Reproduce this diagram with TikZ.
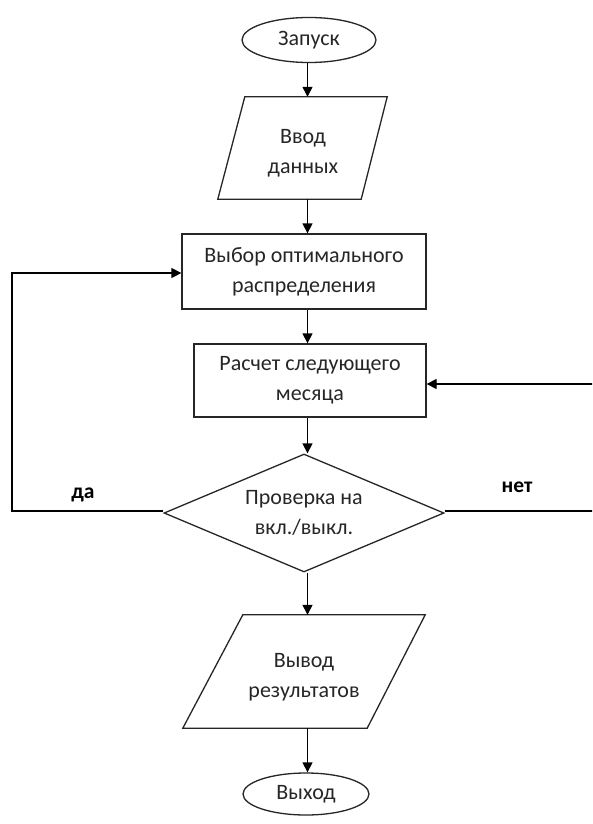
\documentclass[tikz,border=0pt]{standalone}
\usepackage{fontspec}
\setmainfont{Carlito}
\usetikzlibrary{shapes.geometric,arrows.meta,calc}
\begin{document}
\begin{tikzpicture}[x=1pt,y=-1pt,
  every node/.style={font=\fontsize{22}{30}\selectfont, text=black!85, align=center, inner sep=0pt},
  shapeline/.style={draw=black!85, line width=1.3pt},
  term/.style={shapeline, ellipse},
  procbox/.style={shapeline, rectangle},
  iobox/.style={rectangle},
  decis/.style={shapeline, diamond, aspect=2.37},
  arr/.style={draw=black, line width=1.3pt, -{Triangle[length=10pt,width=10pt]}},
  lbl/.style={font=\bfseries\fontsize{21.5}{24}\selectfont, text=black}]
\useasboundingbox (0,0) rectangle (592,824);
\clip (0,0) rectangle (592,824);
\fill[white] (0,0) rectangle (592,824);

% start
\node[term, minimum width=134pt, minimum height=45pt] (start) at (309,40) {Запуск};

% input parallelogram
\node[iobox, minimum width=169pt, minimum height=102pt] (input) at (302.5,148) {};
\draw[shapeline] ($(input.north west)+(27,0)$) -- (input.north east) -- ($(input.south east)+(-26,0)$) -- (input.south west) -- cycle;
\node (inputtxt) at (303,153) {Ввод\\данных};

% choose box
\node[procbox, minimum width=244pt, minimum height=75pt] (choose) at (304,271.5) {Выбор оптимального\\распределения};

% calc box
\node[procbox, minimum width=232pt, minimum height=73pt] (calc) at (310,380.5) {Расчет следующего\\месяца};

% decision
\node[decis, minimum width=280pt, minimum height=118pt] (dec) at (304,513) {Проверка на\\вкл./выкл.};

% output parallelogram
\node[iobox, minimum width=242pt, minimum height=113pt] (output) at (304,671.5) {};
\draw[shapeline] ($(output.north west)+(60,0)$) -- (output.north east) -- ($(output.south east)+(-58,0)$) -- (output.south west) -- cycle;
\node (outputtxt) at (304,677) {Вывод\\результатов};

% exit
\node[term, minimum width=126pt, minimum height=42pt] (exit) at (306,794) {Выход};

% vertical connectors
\coordinate (axis) at (307.5,0);
\draw[arr] (start.south -| axis) -- (axis |- input.north);
\draw[arr] (axis |- input.south) -- (axis |- choose.north);
\draw[arr] (axis |- choose.south) -- (axis |- calc.north);
\draw[arr] (axis |- calc.south) -- (dec.north -| axis);
\draw[arr] (dec.south -| axis) -- (axis |- output.north);
\draw[arr] (axis |- output.south) -- (exit.north -| axis);

% yes loop
\coordinate (yesturn) at (12,511);
\draw[arr] ($(dec.west)+(0,-2)$) -- (yesturn) -- (yesturn |- {$(choose.west)+(0,1.5)$}) -- ($(choose.west)+(0,1.5)$);
\node[lbl] (yes) at (83,495) {да};

% no loop
\coordinate (noturn) at (600,511);
\draw[arr] ($(dec.east)+(0,-2)$) -- (noturn) -- (noturn |- {$(calc.east)+(0,3.5)$}) -- ($(calc.east)+(0,3.5)$);
\node[lbl] (no) at (517,487) {нет};
\end{tikzpicture}
\end{document}
